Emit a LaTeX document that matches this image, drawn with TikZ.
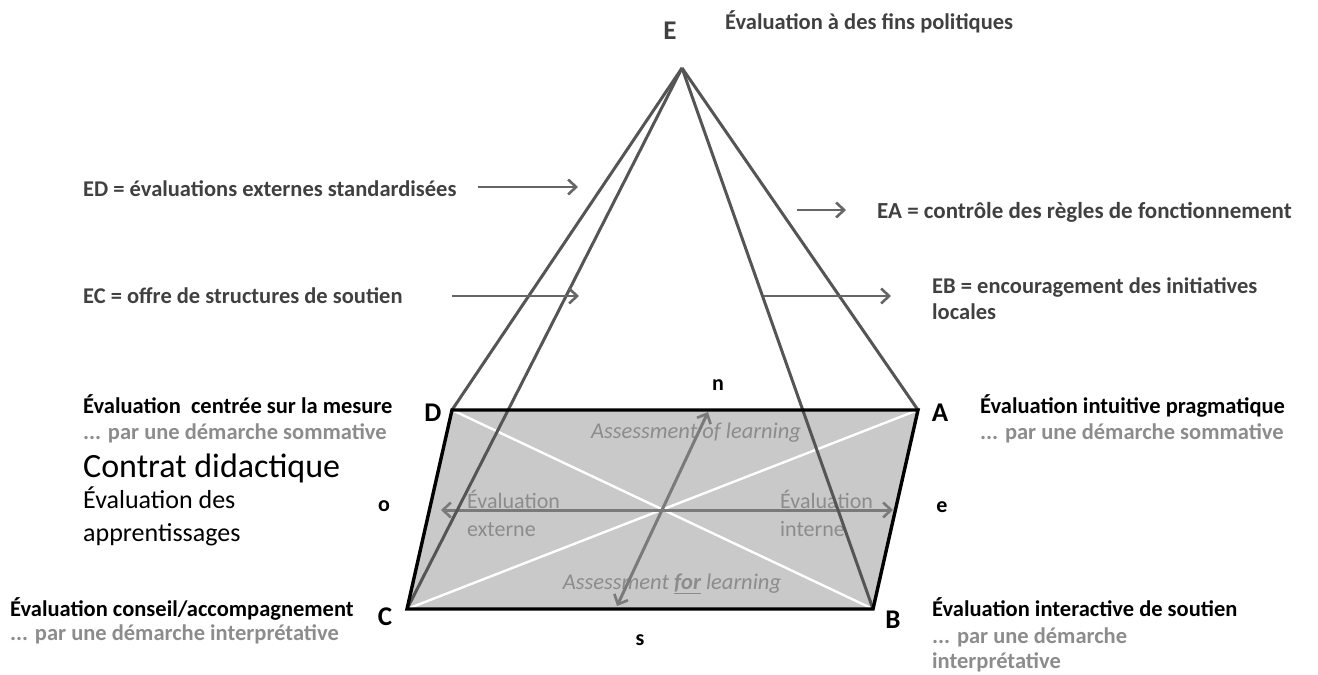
\documentclass[tikz,border=0pt]{standalone}
\usepackage{fontspec}
\setmainfont{Carlito}
\usetikzlibrary{arrows.meta}
\definecolor{edgegray}{HTML}{555555}
\definecolor{arrowgray}{HTML}{666666}
\definecolor{axisgray}{HTML}{7a7a7a}
\definecolor{lightfill}{HTML}{C9C9C9}
\definecolor{subgray}{HTML}{8C8C8C}
\definecolor{titlegray}{HTML}{404040}
\tikzset{
  x=1pt, y=-1pt,
  pyr/.style={draw=edgegray, line width=3pt},
  frame/.style={draw=black, line width=3.4pt, line join=miter},
  barb/.tip={Straight Barb[length=8pt,width=15pt,line width=2.6pt]},
  pointer/.style={draw=arrowgray, line width=2.8pt, -barb},
  axis/.style={draw=axisgray, line width=3pt},
  diag/.style={draw=white, line width=2.4pt},
  boldtxt/.style={font=\fontsize{22.5}{27}\selectfont\bfseries, text=black, inner sep=0pt},
  subtxt/.style={font=\fontsize{22.5}{27}\selectfont\bfseries, text=subgray, inner sep=0pt},
  corner/.style={font=\fontsize{27}{30}\selectfont\bfseries, text=black, inner sep=0pt},
  axlbl/.style={font=\fontsize{22}{24}\selectfont\bfseries, text=black, inner sep=0pt},
  innertxt/.style={font=\fontsize{22}{28}\selectfont, text=subgray, inner sep=0pt, align=left},
  asstxt/.style={font=\fontsize{22.5}{24}\selectfont\itshape, text=subgray, inner sep=0pt},
}
\begin{document}
\begin{tikzpicture}
\useasboundingbox (0,0) rectangle (1318,675);
% vertices
\coordinate (E) at (682,68);
\coordinate (D) at (452,410);
\coordinate (A) at (918,410);
\coordinate (B) at (873,609);
\coordinate (C) at (407,609);
% parallelogram fill
\fill[lightfill] (D) -- (A) -- (B) -- (C) -- cycle;
\draw[diag] (D) -- (B);
\draw[diag] (A) -- (C);
% inner labels
\node[innertxt, anchor=west] (extl) at (467,513) {Évaluation\\externe};
\node[innertxt, anchor=west] (intl) at (780,513) {Évaluation\\interne};
\node[asstxt] (aol) at (696,433) {Assessment of learning};
\node[asstxt] (afl) at (672,584) {Assessment \textbf{\underline{for}} learning};
% axes
\coordinate (oend) at (441,510);
\coordinate (eend) at (893,510);
\coordinate (nend) at (708,412);
\coordinate (send) at (617,606);
\draw[axis, barb-barb] (oend) -- (eend);
\draw[axis, barb-barb] (send) -- (nend);
% pyramid
\draw[pyr] (E) -- (D);
\draw[pyr] (E) -- (C);
\draw[pyr] (E) -- (A);
\draw[pyr] (E) -- (B);
\draw[frame] (D) -- (A) -- (B) -- (C) -- cycle;
% corner labels
\node[corner, text=titlegray] (Elbl) at (670,31) {E};
\node[corner] (Dlbl) at (433,413) {D};
\node[corner] (Albl) at (940,413) {A};
\node[corner] (Clbl) at (385,617) {C};
\node[corner] (Blbl) at (893,620) {B};
\node[axlbl] (nlbl) at (718,385) {n};
\node[axlbl] (slbl) at (640,640) {s};
\node[axlbl] (olbl) at (384,506) {o};
\node[axlbl] (elbl) at (942,507) {e};
% title
\node[boldtxt, text=titlegray, anchor=base west] (title) at (725,29) {Évaluation à des fins politiques};
% policy labels
\node[boldtxt, text=titlegray, anchor=base west] (ED) at (83,196) {ED = évaluations externes standardisées};
\node[boldtxt, text=titlegray, anchor=base west] (EC) at (83,303) {EC = offre de structures de soutien};
\node[boldtxt, text=titlegray, anchor=base west, font=\fontsize{23}{27}\selectfont\bfseries] (EA) at (877,218) {EA = contrôle des règles de fonctionnement};
\node[boldtxt, text=titlegray, anchor=base west] (EB) at (932,293) {EB = encouragement des initiatives};
\node[boldtxt, text=titlegray, anchor=base west] (EB2) at (932,319) {locales};
\coordinate (edS) at (478,187); \coordinate (edT) at (578,187);
\coordinate (ecS) at (452,296); \coordinate (ecT) at (579,296);
\coordinate (eaS) at (797,210); \coordinate (eaT) at (846,210);
\coordinate (ebS) at (764,296); \coordinate (ebT) at (891,296);
\draw[pointer] (edS) -- (edT);
\draw[pointer] (ecS) -- (ecT);
\draw[pointer] (eaS) -- (eaT);
\draw[pointer] (ebS) -- (ebT);
% corner descriptions
\node[boldtxt, anchor=base west] (dD1) at (83,413) {Évaluation\ \ centrée sur la mesure};
\node[subtxt, anchor=base west] (dD2) at (83,439) {... par une démarche sommative};
\node[anchor=base west, inner sep=0pt, font=\fontsize{34}{36}\selectfont] (cd) at (83,477) {Contrat didactique};
\node[anchor=base west, inner sep=0pt, font=\fontsize{26}{30}\selectfont] (ea1) at (83,508) {Évaluation des};
\node[anchor=base west, inner sep=0pt, font=\fontsize{26}{30}\selectfont] (ea2) at (83,541) {apprentissages};
\node[boldtxt, anchor=base west] (dA1) at (980,413) {Évaluation intuitive pragmatique};
\node[subtxt, anchor=base west] (dA2) at (980,439) {... par une démarche sommative};
\node[boldtxt, anchor=base west] (dC1) at (10,616) {Évaluation conseil/accompagnement};
\node[subtxt, anchor=base west] (dC2) at (10,640) {... par une démarche interprétative};
\node[boldtxt, anchor=base west] (dB1) at (932,616) {Évaluation interactive de soutien};
\node[subtxt, anchor=base west] (dB2) at (932,643) {... par une démarche};
\node[subtxt, anchor=base west] (dB3) at (932,668) {interprétative};
\end{tikzpicture}
\end{document}
